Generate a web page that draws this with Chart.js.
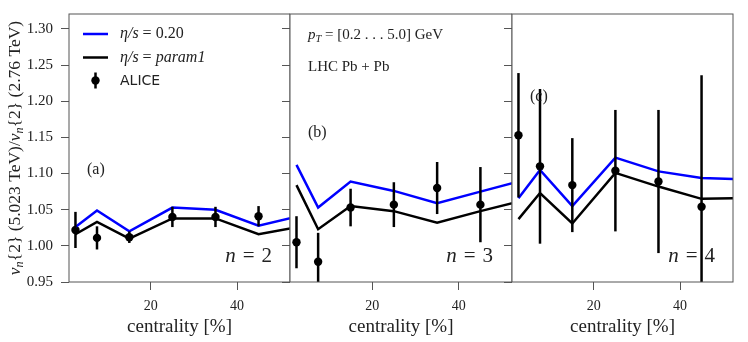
<!DOCTYPE html>
<html>
<head>
<meta charset="utf-8">
<script src="https://cdn.jsdelivr.net/npm/chart.js@4.4.1/dist/chart.umd.min.js"></script>
<style>
    html, body { margin: 0; padding: 0; background: #fff; }
    #wrap { position: relative; width: 748px; height: 342px; overflow: hidden; }
    canvas { position: absolute; top: 0; }
</style>
</head>
<body>
<div id="wrap">
    <canvas id="panelA" width="290" height="342" style="left:0px"></canvas>
    <canvas id="panelB" width="232" height="342" style="left:280px"></canvas>
    <canvas id="panelC" width="248" height="342" style="left:500px"></canvas>
</div>
<script>
// Centrality bins (theory curves run one bin past the axis and get clipped)
const centrality = [2.5, 7.5, 15, 25, 35, 45, 55];
const aliceCentrality = [2.5, 7.5, 15, 25, 35, 45];

// eta/s = 0.20 (blue) and eta/s = param1 (black), per harmonic
const blueN2 = [1.026, 1.049, 1.020, 1.053, 1.050, 1.028, 1.042];
const blackN2 = [1.016, 1.033, 1.010, 1.038, 1.038, 1.016, 1.027];
const blueN3 = [1.112, 1.053, 1.089, 1.076, 1.059, 1.075, 1.091];
const blackN3 = [1.084, 1.023, 1.055, 1.048, 1.032, 1.048, 1.063];
const blueN4 = [1.066, 1.105, 1.055, 1.122, 1.103, 1.094, 1.092];
const blackN4 = [1.037, 1.073, 1.031, 1.101, 1.082, 1.065, 1.066];

// ALICE points and errors
const aliceN2 = [1.022, 1.011, 1.012, 1.040, 1.040, 1.041];
const aliceErrN2 = [0.025, 0.016, 0.008, 0.014, 0.014, 0.014];
const aliceN3 = [1.005, 0.978, 1.053, 1.057, 1.080, 1.057];
const aliceErrN3 = [0.036, 0.040, 0.026, 0.031, 0.036, 0.052];
const aliceN4 = [1.153, 1.110, 1.084, 1.104, 1.089, 1.054];
const aliceErrN4 = [0.086, 0.107, 0.065, 0.084, 0.099, 0.182];

// Axis ticks
const xTicks = [20, 40];
const yTicks = [0.95, 1.00, 1.05, 1.10, 1.15, 1.20, 1.25, 1.30];
const X_MIN = 1.0, X_MAX = 52.3;
const Y_MIN = 0.95, Y_MAX = 1.3207;

const SERIF = "'Liberation Serif', 'DejaVu Serif', serif";
const SANS = "'DejaVu Sans', 'Liberation Sans', sans-serif";
const TEXT = '#222';
const AXIS = '#555';

Chart.defaults.devicePixelRatio = 1;

// draw a list of runs {t, i (italic), sub}
function runFont(r, size) {
    const s = r.sub ? size * 0.7 : size;
    return (r.i ? 'italic ' : '') + s + 'px ' + (r.sans ? SANS : SERIF);
}
function drawRuns(ctx, runs, x, y, size, align) {
    let total = 0;
    runs.forEach(r => { ctx.font = runFont(r, size); total += ctx.measureText(r.t).width; });
    let cx = align === 'right' ? x - total : align === 'center' ? x - total / 2 : x;
    ctx.textBaseline = 'middle';
    ctx.textAlign = 'left';
    runs.forEach(r => {
        ctx.font = runFont(r, size);
        ctx.fillText(r.t, cx, r.sub ? y + size * 0.28 : y);
        cx += ctx.measureText(r.t).width;
    });
}

const xy = (xs, ys) => xs.map((x, i) => ({ x: x, y: ys[i] }));

// per-panel annotation painters, keyed by canvas id
const painters = {};

// frame + error bars + annotations
const panelPlugin = {
    id: 'panelPlugin',
    afterDatasetsDraw(chart) {
        const ctx = chart.ctx;
        const area = chart.chartArea;
        const xs = chart.scales.x, ys = chart.scales.y;

        // error bars
        ctx.save();
        ctx.beginPath();
        ctx.rect(area.left, area.top, area.right - area.left, area.bottom - area.top);
        ctx.clip();
        ctx.strokeStyle = '#000';
        ctx.lineWidth = 2.5;
        chart.data.datasets.forEach(ds => {
            if (!ds.errors) return;
            ds.data.forEach((p, i) => {
                const px = xs.getPixelForValue(p.x);
                ctx.beginPath();
                ctx.moveTo(px, ys.getPixelForValue(p.y - ds.errors[i]));
                ctx.lineTo(px, ys.getPixelForValue(p.y + ds.errors[i]));
                ctx.stroke();
            });
        });
        ctx.restore();

        // frame
        ctx.save();
        ctx.strokeStyle = AXIS;
        ctx.lineWidth = 1;
        ctx.strokeRect(area.left, area.top, area.right - area.left, area.bottom - area.top);
        ctx.fillStyle = TEXT;
        const paint = painters[chart.canvas.id];
        if (paint) paint(ctx, area);
        ctx.restore();
    }
};

function makeScales(yWidth, showYLabels) {
    return {
        x: {
            type: 'linear', min: X_MIN, max: X_MAX,
            afterBuildTicks: s => { s.ticks = xTicks.map(v => ({ value: v })); },
            afterFit: s => { s.height = 60; s.paddingLeft = 0; s.paddingRight = 0; },
            grid: { drawOnChartArea: false, drawTicks: true, tickLength: 8, color: AXIS, lineWidth: 1 },
            border: { display: false },
            ticks: { font: { family: SERIF, size: 14 }, color: TEXT, padding: 8, maxRotation: 0 },
            title: {
                display: true, text: 'centrality [%]', color: TEXT,
                font: { family: SERIF, size: 19 }, padding: { top: 0, bottom: 4 }
            }
        },
        y: {
            type: 'linear', min: Y_MIN, max: Y_MAX,
            afterBuildTicks: s => { s.ticks = yTicks.map(v => ({ value: v })); },
            afterFit: s => { s.width = yWidth; s.paddingTop = 0; s.paddingBottom = 0; },
            grid: { drawOnChartArea: false, drawTicks: true, tickLength: 8, color: AXIS, lineWidth: 1 },
            border: { display: false },
            ticks: {
                display: showYLabels, font: { family: SERIF, size: 15 }, color: TEXT, padding: 8,
                callback: v => v.toFixed(2)
            }
        }
    };
}

function makePanel(id, blue, black, alice, errors, yWidth, showYLabels, padding) {
    return new Chart(document.getElementById(id), {
        type: 'line',
        data: {
            datasets: [
                { data: xy(centrality, blue), borderColor: '#0000ff', borderWidth: 2.5, pointRadius: 0, tension: 0 },
                { data: xy(centrality, black), borderColor: '#000', borderWidth: 2.5, pointRadius: 0, tension: 0 },
                {
                    type: 'scatter', data: xy(aliceCentrality, alice), errors: errors,
                    backgroundColor: '#000', borderColor: '#000', pointRadius: 4.2, borderWidth: 0
                }
            ]
        },
        options: {
            responsive: false,
            animation: false,
            events: [],
            layout: { padding: padding, autoPadding: false },
            scales: makeScales(yWidth, showYLabels),
            plugins: {
                legend: { display: false },
                tooltip: { enabled: false }
            }
        },
        plugins: [panelPlugin]
    });
}

// Panel (a): legend, y-axis title
painters.panelA = (ctx, area) => {
    const lx = area.left + 14;
    ctx.lineWidth = 2.5;
    ctx.strokeStyle = '#0000ff';
    ctx.beginPath(); ctx.moveTo(lx, 34); ctx.lineTo(lx + 25, 34); ctx.stroke();
    ctx.strokeStyle = '#000';
    ctx.beginPath(); ctx.moveTo(lx, 57.5); ctx.lineTo(lx + 25, 57.5); ctx.stroke();
    ctx.beginPath(); ctx.moveTo(lx + 12.5, 72.5); ctx.lineTo(lx + 12.5, 88.5); ctx.stroke();
    ctx.beginPath(); ctx.arc(lx + 12.5, 80.5, 4.2, 0, Math.PI * 2); ctx.fillStyle = '#000'; ctx.fill();
    ctx.fillStyle = TEXT;
    const tx = area.left + 51;
    drawRuns(ctx, [{ t: 'η/s', i: true }, { t: ' = 0.20' }], tx, 34, 16, 'left');
    drawRuns(ctx, [{ t: 'η/s', i: true }, { t: ' = ' }, { t: 'param1', i: true }], tx, 57.5, 16, 'left');
    drawRuns(ctx, [{ t: 'ALICE', sans: true }], tx, 81, 14, 'left');

    drawRuns(ctx, [{ t: '(a)' }], area.left + 18, 170, 16, 'left');
    drawRuns(ctx, [{ t: 'n', i: true }, { t: '\u2004=\u20042' }], area.right - 18, 256, 21, 'right');

    // y-axis title
    ctx.save();
    ctx.translate(15, (area.top + area.bottom) / 2);
    ctx.rotate(-Math.PI / 2);
    drawRuns(ctx, [
        { t: 'v', i: true }, { t: 'n', i: true, sub: true }, { t: '{2} (5.023 TeV)/' },
        { t: 'v', i: true }, { t: 'n', i: true, sub: true }, { t: '{2} (2.76 TeV)' }
    ], 0, 0, 17.5, 'center');
    ctx.restore();
};

// Panel (b)
painters.panelB = (ctx, area) => {
    drawRuns(ctx, [{ t: 'p', i: true }, { t: 'T', i: true, sub: true }, { t: ' = [0.2 . . . 5.0] GeV' }],
        area.left + 18, 35, 15, 'left');
    drawRuns(ctx, [{ t: 'LHC Pb + Pb' }], area.left + 18, 67, 15, 'left');
    drawRuns(ctx, [{ t: '(b)' }], area.left + 18, 133, 16, 'left');
    drawRuns(ctx, [{ t: 'n', i: true }, { t: '\u2004=\u20043' }], area.right - 19, 256, 21, 'right');
};

// Panel (c)
painters.panelC = (ctx, area) => {
    drawRuns(ctx, [{ t: '(c)' }], area.left + 18, 97, 16, 'left');
    drawRuns(ctx, [{ t: 'n', i: true }, { t: '\u2004=\u20044' }], area.right - 18, 256, 21, 'right');
};

makePanel('panelA', blueN2, blackN2, aliceN2, aliceErrN2, 69, true, { top: 14, right: 0, left: 0, bottom: 0 });
makePanel('panelB', blueN3, blackN3, aliceN3, aliceErrN3, 10, false, { top: 14, right: 0, left: 0, bottom: 0 });
makePanel('panelC', blueN4, blackN4, aliceN4, aliceErrN4, 12, false, { top: 14, right: 15, left: 0, bottom: 0 });
</script>
</body>
</html>
